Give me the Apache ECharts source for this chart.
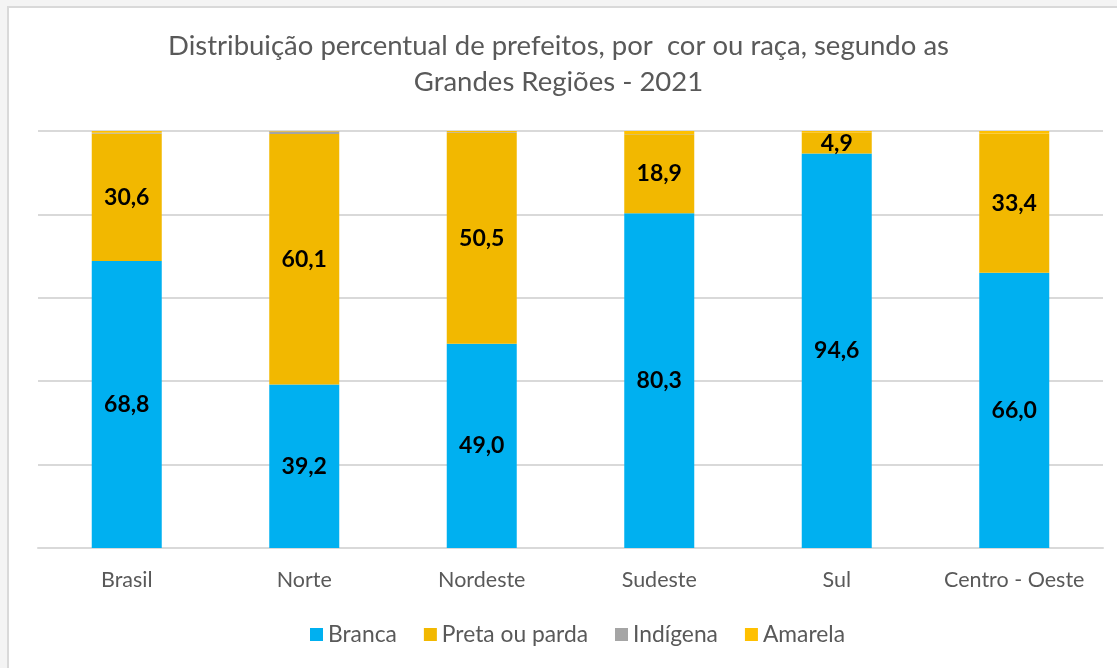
<!DOCTYPE html>
<html><head><meta charset="utf-8">
<script src="https://cdn.jsdelivr.net/npm/echarts@6/dist/echarts.min.js"></script>
<style>
html,body{margin:0;padding:0;background:#f4f4f4;width:1117px;height:668px;overflow:hidden;}
#frame{position:absolute;left:7px;top:6px;width:1200px;height:700px;border:2px solid #d9d9d9;background:#fff;}
#chart{position:absolute;left:0;top:0;width:1117px;height:668px;}
</style></head>
<body>
<div id="frame"></div>
<div id="chart"></div>
<script>
const categories = ['Brasil', 'Norte', 'Nordeste', 'Sudeste', 'Sul', 'Centro - Oeste'];
const branca = [68.8, 39.2, 49.0, 80.3, 94.6, 66.0];
const pretaParda = [30.6, 60.1, 50.5, 18.9, 4.9, 33.4];
const indigena = [0.2, 0.6, 0.2, 0.1, 0.1, 0.0];
const amarela = [0.4, 0.1, 0.3, 0.7, 0.4, 0.6];
const yTicks = [0, 20, 40, 60, 80, 100];

const FONT = 'Lato';
const fmt = p => p.value.toFixed(1).replace('.', ',');
const lbl = {show: true, position: 'inside', formatter: fmt, color: '#000', fontWeight: 'bold', fontSize: 23, fontFamily: FONT};

const chart = echarts.init(document.getElementById('chart'), null, {renderer: 'canvas'});
chart.setOption({
  backgroundColor: 'transparent',
  animation: false,
  title: {
    text: 'Distribuição percentual de prefeitos, por  cor ou raça, segundo as\nGrandes Regiões - 2021',
    left: 'center', top: 23,
    textStyle: {color: '#595959', fontSize: 27.5, fontWeight: 'normal', fontFamily: FONT, lineHeight: 36}
  },
  legend: {
    top: 618, left: 305, itemWidth: 13, itemHeight: 13, itemGap: 27,
    icon: 'rect',
    textStyle: {color: '#595959', fontSize: 22.8, fontFamily: FONT},
    data: ['Branca', 'Preta ou parda', 'Indígena', 'Amarela']
  },
  grid: {left: 38, right: 14, top: 131, bottom: 120},
  xAxis: {
    type: 'category', data: categories,
    axisLine: {lineStyle: {color: '#d9d9d9', width: 2}},
    axisTick: {show: false},
    axisLabel: {color: '#595959', fontSize: 21.5, fontFamily: FONT, margin: 21, interval: 0}
  },
  yAxis: {
    type: 'value', min: yTicks[0], max: yTicks[yTicks.length - 1], interval: 20,
    axisLabel: {show: false}, axisLine: {show: false}, axisTick: {show: false},
    splitLine: {lineStyle: {color: '#d9d9d9', width: 2}}
  },
  series: [
    {name: 'Branca', type: 'bar', stack: 't', data: branca, barWidth: 70, itemStyle: {color: '#00b0f0'}, label: lbl},
    {name: 'Preta ou parda', type: 'bar', stack: 't', data: pretaParda, itemStyle: {color: '#f2b800'}, label: lbl},
    {name: 'Indígena', type: 'bar', stack: 't', data: indigena, itemStyle: {color: '#a5a5a5'}},
    {name: 'Amarela', type: 'bar', stack: 't', data: amarela, itemStyle: {color: '#ffc000'}}
  ]
});
</script>
</body></html>
